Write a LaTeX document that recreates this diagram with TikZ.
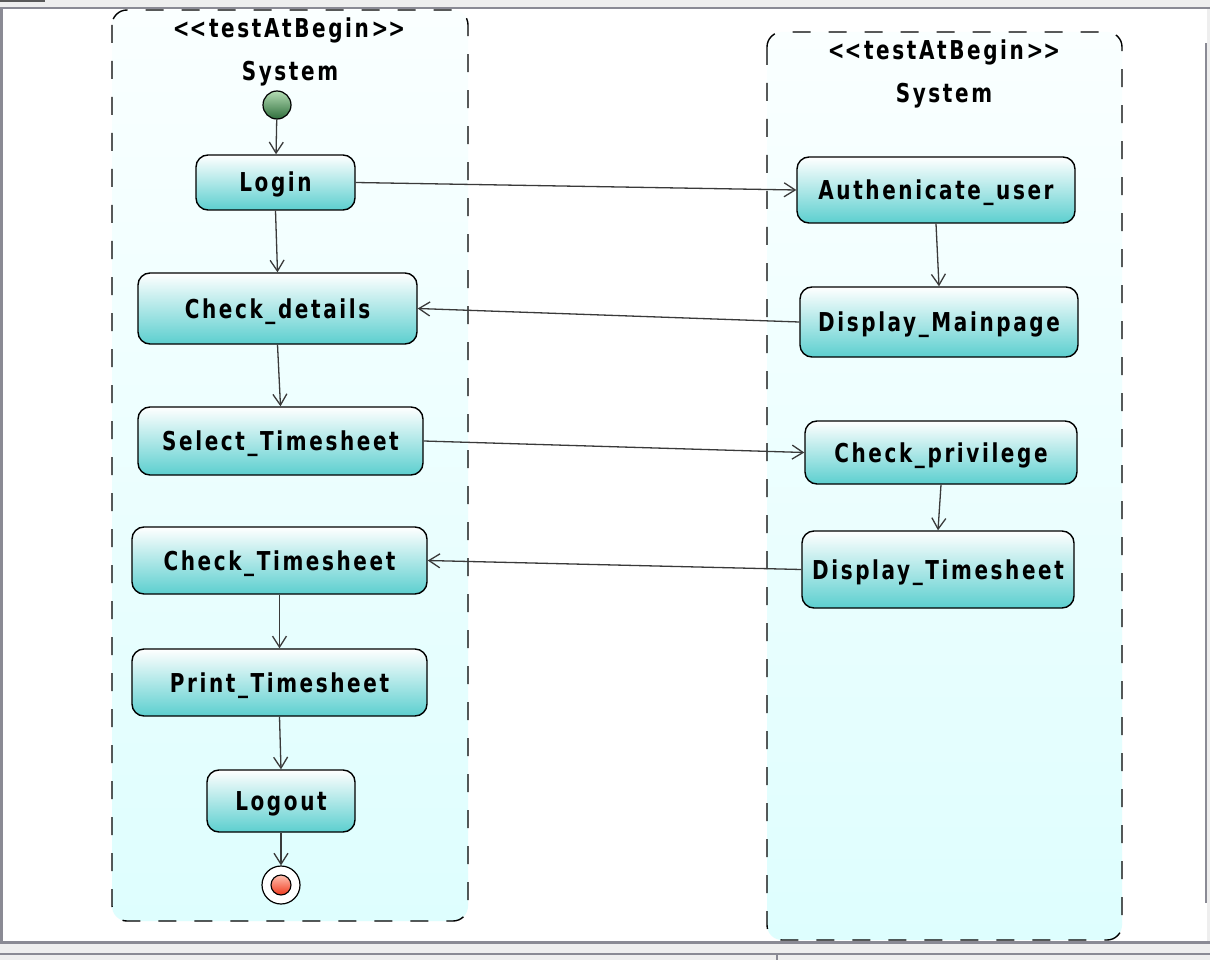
\documentclass[tikz,border=0pt]{standalone}
\usepackage{fontspec}
\newfontfamily\umlfont{DejaVu Sans}[LetterSpace=13]
\newcommand{\ut}[1]{\scalebox{1}[1.3]{#1}}
\usetikzlibrary{arrows.meta}
\definecolor{chrome}{HTML}{8A8A94}
\definecolor{band}{HTML}{EEEEEE}
\definecolor{lanebot}{HTML}{DEFEFE}
\definecolor{lanetop}{HTML}{FAFFFF}
\definecolor{actbot}{HTML}{5CCFCF}
\definecolor{edgec}{HTML}{3A3A3A}
\definecolor{startbot}{HTML}{2F6E3C}
\definecolor{starttop}{HTML}{B4DDB4}
\definecolor{endtop}{HTML}{FFC0B0}
\definecolor{endbot}{HTML}{F03A1E}
\tikzset{
  umltext/.style={font=\umlfont\bfseries\fontsize{20}{24}\selectfont, text=black, text height=19pt, text depth=0pt},
  lanebox/.style={draw=black, line width=1.4pt, dash pattern=on 18pt off 18pt, rounded corners=15pt, top color=lanetop, bottom color=lanebot},
  actbox/.style={draw=black, line width=1.4pt, rounded corners=12pt, top color=white, bottom color=actbot, umltext, inner sep=0pt},
  flow/.style={draw=edgec, line width=1.3pt, -{Straight Barb[length=11pt,width=14pt,line width=1.3pt]}},
}
\begin{document}
\begin{tikzpicture}[x=1pt,y=-1pt]
\useasboundingbox (0,0) rectangle (1210,960);
% window chrome
\fill[white] (0,0) rectangle (1210,960);
\fill[band] (0,0) rectangle (1210,7);
\fill[black!65] (0,0) rectangle (45,2.5);
\fill[chrome] (0,7) rectangle (1210,9);
\fill[chrome] (0,9) rectangle (3,944);
\fill[band] (1207,9) rectangle (1210,942);
\fill[chrome] (1205,43) rectangle (1207,903);
% lanes
\path[lanebox] (112,10) rectangle (468,921);
\path[lanebox] (767,32) rectangle (1122,940);
\node[umltext] (st1) at (289,28) {\ut{<\kern0pt<testAtBegin>\kern0pt>}};
\node[umltext] (sy1) at (290,71) {\ut{System}};
\node[umltext] (st2) at (944,50.5) {\ut{<\kern0pt<testAtBegin>\kern0pt>}};
\node[umltext] (sy2) at (944,93.5) {\ut{System}};
% bottom chrome
\fill[chrome] (0,941) rectangle (1210,944);
\fill[band] (0,944) rectangle (1210,953);
\fill[chrome] (0,953) rectangle (1210,955);
\fill[band] (0,955) rectangle (1210,960);
\fill[chrome] (776,955) rectangle (778,960);
% left activities
\node[circle, draw=black, line width=1.2pt, minimum size=28pt, inner sep=0pt, top color=starttop, bottom color=startbot] (start) at (277,105) {};
\node[actbox, minimum width=159pt, minimum height=55pt] (login) at (275.5,182.5) {\ut{Login}};
\node[actbox, minimum width=279pt, minimum height=71pt] (chkd) at (277.5,308.5) {\ut{Check\_details}};
\node[actbox, minimum width=285pt, minimum height=68pt] (selts) at (280.5,441) {\ut{Select\_Timesheet}};
\node[actbox, minimum width=295pt, minimum height=67pt] (chkts) at (279.5,560.5) {\ut{Check\_Timesheet}};
\node[actbox, minimum width=295pt, minimum height=67pt] (prts) at (279.5,682.5) {\ut{Print\_Timesheet}};
\node[actbox, minimum width=148pt, minimum height=62pt] (logout) at (281,801) {\ut{Logout}};
\node[circle, draw=black, line width=1.2pt, fill=white, minimum size=38pt, inner sep=0pt] (final) at (281,885) {};
\node[circle, draw=black, line width=1.1pt, minimum size=20pt, inner sep=0pt, top color=endtop, bottom color=endbot] (finalin) at (281,885) {};
% right activities
\node[actbox, minimum width=278pt, minimum height=66pt] (auth) at (936,190) {\ut{Authenicate\_user}};
\node[actbox, minimum width=278pt, minimum height=70pt] (dmain) at (939,322) {\ut{Display\_Mainpage}};
\node[actbox, minimum width=272pt, minimum height=63pt] (chkp) at (941,452.5) {\ut{Check\_privilege}};
\node[actbox, minimum width=272pt, minimum height=77pt] (dts) at (938,569.5) {\ut{Display\_Timesheet}};
% connectors
\draw[flow] (start) -- (login);
\draw[flow] (login.south) -- (chkd.north);
\draw[flow] (chkd.south) -- (selts.north);
\draw[flow] (chkts.south) -- (prts.north);
\draw[flow] (prts.south) -- (logout.north);
\draw[flow] (logout.south) -- (final.north);
\draw[flow] (login.east) -- (auth.west);
\draw[flow] (auth.south) -- (dmain.north);
\draw[flow] (dmain.west) -- (chkd.east);
\draw[flow] (selts.east) -- (chkp.west);
\draw[flow] (chkp.south) -- (dts.north);
\draw[flow] (dts.west) -- (chkts.east);
\end{tikzpicture}
\end{document}
